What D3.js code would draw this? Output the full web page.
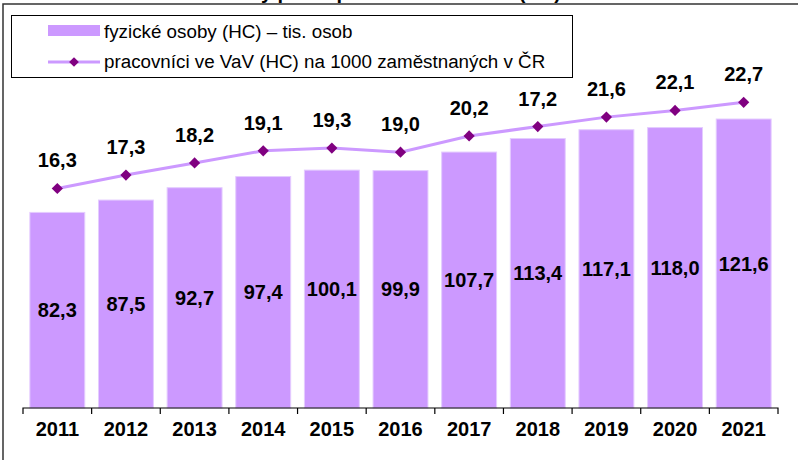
<!DOCTYPE html>
<html>
<head>
<meta charset="utf-8">
<script src="https://cdn.jsdelivr.net/npm/d3@7"></script>
<style>
  body { margin: 0; background: #fff; }
  svg { display: block; font-family: "Liberation Sans", Arial, sans-serif; }
</style>
</head>
<body>
<svg id="chart" width="798" height="460"></svg>
<script>
'use strict'

const years = ['2011','2012','2013','2014','2015','2016','2017','2018','2019','2020','2021']
const headcount = [82.3, 87.5, 92.7, 97.4, 100.1, 99.9, 107.7, 113.4, 117.1, 118.0, 121.6]
// plotted positions of the line (2018 point sits near 20,9 in the source chart)
const per1000 = [16.3, 17.3, 18.2, 19.1, 19.3, 19.0, 20.2, 20.9, 21.6, 22.1, 22.7]
// data labels as printed in the source chart
const per1000Labels = ['16,3', '17,3', '18,2', '19,1', '19,3', '19,0', '20,2', '17,2', '21,6', '22,1', '22,7']
const legendLabels = ['fyzické osoby (HC) – tis. osob', 'pracovníci ve VaV (HC) na 1000 zaměstnaných v ČR']
const titleText = 'Celkový počet pracovníků ve VaV (HC)'

const fmt = v => d3.format('.1f')(v).replace('.', ',')

function draw(){
	let svg = d3.select('#chart')
	let barColor = '#cc99ff'
	let markColor = '#800080'

	let x = d3.scaleBand()
		.domain(years)
		.range([23, 778])
		.paddingInner(0.2)
		.paddingOuter(0.1)

	let y = d3.scaleLinear().domain([0, 170]).range([408, 4])
	let y2 = d3.scaleLinear().domain([0, 30]).range([408, 4])

	// title (cut off at the top, as in the source) and outer frame
	svg.append('text')
		.attr('x', 561).attr('y', -1)
		.attr('text-anchor', 'end')
		.style('font-weight', 'bold').style('font-size', '20px')
		.text(titleText)

	svg.append('path')
		.attr('d', 'M3,470 L3,4 L805,4')
		.attr('fill', 'none')
		.attr('stroke', '#333')
		.attr('stroke-width', 1.5)

	// bars
	svg.append('g').selectAll('rect')
		.data(headcount)
		.join('rect')
		.attr('x', (d, i) => x(years[i]))
		.attr('width', x.bandwidth())
		.attr('y', d => y(d))
		.attr('height', d => y(0) - y(d))
		.attr('fill', barColor)
		.attr('stroke', '#e4ccff')
		.attr('stroke-width', 1)

	svg.append('g').selectAll('text')
		.data(headcount)
		.join('text')
		.attr('x', (d, i) => x(years[i]) + x.bandwidth() / 2)
		.attr('y', d => (y(d) + y(0)) / 2 + 7)
		.attr('text-anchor', 'middle')
		.style('font-weight', 'bold').style('font-size', '20px')
		.text(d => fmt(d))

	// axis
	let axis = d3.axisBottom(x).tickSize(0).tickPadding(14)
	let ax = svg.append('g')
		.attr('transform', 'translate(0,408)')
		.call(axis)
	ax.select('.domain').attr('stroke', '#000').attr('stroke-width', 1.2)
		.attr('d', 'M23,6V0H778V6')
	ax.selectAll('.tick text')
		.style('font-family', '"Liberation Sans", Arial, sans-serif')
		.style('font-weight', 'bold').style('font-size', '20px')
		.attr('fill', '#000')
	// category separators
	ax.selectAll('.sep')
		.data(years.slice(1))
		.join('line')
		.attr('x1', d => x(d) - x.step() * x.paddingInner() / 2)
		.attr('x2', d => x(d) - x.step() * x.paddingInner() / 2)
		.attr('y1', 0).attr('y2', 6)
		.attr('stroke', '#000').attr('stroke-width', 1.2)

	// line series
	let cx = i => x(years[i]) + x.bandwidth() / 2
	let line = d3.line()
		.x((d, i) => cx(i))
		.y(d => y2(d))

	svg.append('path')
		.datum(per1000)
		.attr('d', line)
		.attr('fill', 'none')
		.attr('stroke', barColor)
		.attr('stroke-width', 3)

	svg.append('g').selectAll('path')
		.data(per1000)
		.join('path')
		.attr('d', d3.symbol(d3.symbolDiamond2, 80))
		.attr('transform', (d, i) => `translate(${cx(i)},${y2(d)})`)
		.attr('fill', markColor)

	svg.append('g').selectAll('text')
		.data(per1000)
		.join('text')
		.attr('x', (d, i) => cx(i))
		.attr('y', d => y2(d) - 21)
		.attr('text-anchor', 'middle')
		.style('font-weight', 'bold').style('font-size', '20px')
		.text((d, i) => per1000Labels[i])

	// legend
	let lg = svg.append('g')
	lg.append('rect')
		.attr('x', 11.5).attr('y', 15.5)
		.attr('width', 561).attr('height', 62)
		.attr('fill', '#fff')
		.attr('stroke', '#000').attr('stroke-width', 1)
	lg.append('rect')
		.attr('x', 48).attr('y', 25)
		.attr('width', 52).attr('height', 11)
		.attr('fill', barColor)
	lg.append('line')
		.attr('x1', 48).attr('x2', 100)
		.attr('y1', 62).attr('y2', 62)
		.attr('stroke', barColor).attr('stroke-width', 3)
	lg.append('path')
		.attr('d', d3.symbol(d3.symbolDiamond2, 60))
		.attr('transform', 'translate(74,62)')
		.attr('fill', markColor)
	lg.selectAll('text.lbl')
		.data(legendLabels)
		.join('text')
		.attr('x', 104)
		.attr('y', (d, i) => 38 + i * 30)
		.style('font-size', '18.8px')
		.text(d => d)
}

draw()
</script>
</body>
</html>
